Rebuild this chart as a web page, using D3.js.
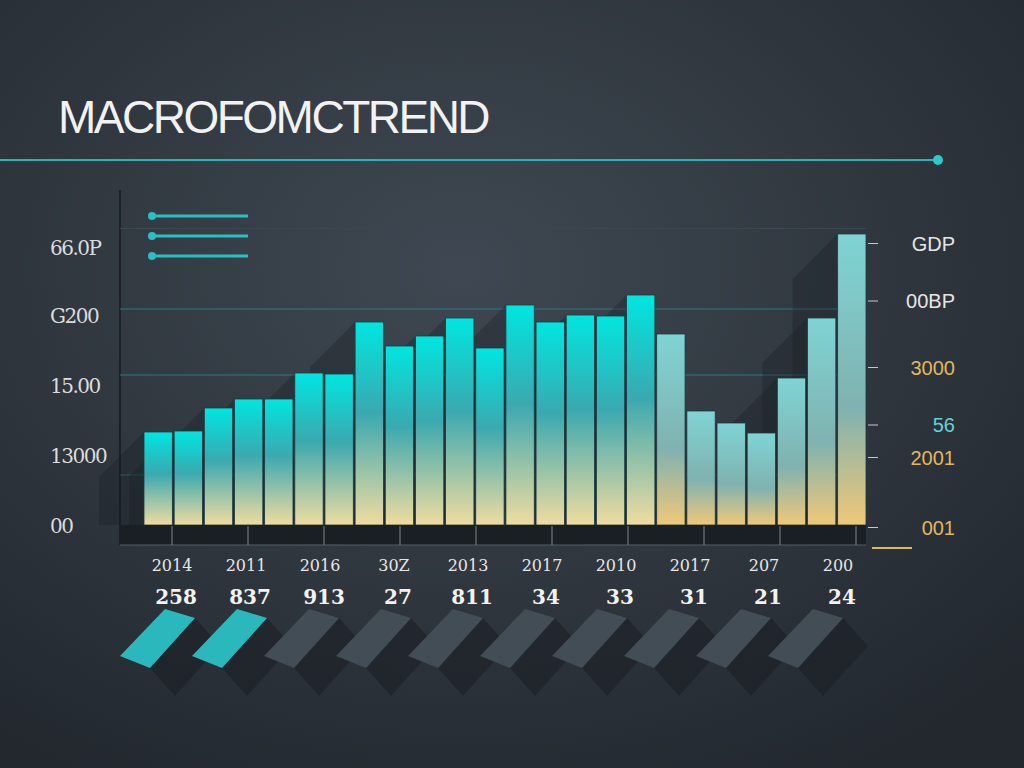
<!DOCTYPE html><html><head><meta charset="utf-8"><script src="https://cdn.jsdelivr.net/npm/d3@7"></script>
<style>body{margin:0;background:#2c333a}svg{display:block}</style></head><body><svg id="c" width="1024" height="768"></svg>
<script>
const values=[1860,1880,2340,2520,2520,3040,3020,4060,3580,3780,4140,3540,4400,4060,4200,4180,4600,3820,2280,2040,1840,2940,4140,5820];
const leftTicks=[{v:0,t:"00"},{v:1400,t:"13000"},{v:2800,t:"15.00"},{v:4200,t:"G200"},{v:5560,t:"66.0P"}];
const rightTicks=[{v:-50,t:"001",c:"#e0b860"},{v:1350,t:"2001",c:"#e0b860"},{v:2000,t:"56",c:"#5fd6d6"},{v:3150,t:"3000",c:"#e0b860"},{v:4480,t:"00BP",c:"#e6e6e6"},{v:5630,t:"GDP",c:"#e6e6e6"}];
const yearLabels=["2014","2011","2016","30Z","2013","2017","2010","2017","207","200"];
const subLabels=["258","837","913","27","811","34","33","31","21","24"];
const gridVals=[1000,3000,4320,5930];
const svg=d3.select("#c");
const defs=svg.append("defs");
const bg=defs.append("radialGradient").attr("id","bg").attr("cx","45%").attr("cy","35%").attr("r","75%");
bg.append("stop").attr("offset","0").attr("stop-color","#3f4852");bg.append("stop").attr("offset","1").attr("stop-color","#22282e");
const bar=defs.append("linearGradient").attr("id","bar").attr("x1",0).attr("y1",0).attr("x2",0).attr("y2",1);
bar.append("stop").attr("offset","0").attr("stop-color","#00e6e0");bar.append("stop").attr("offset","0.45").attr("stop-color","#3aa9b0");bar.append("stop").attr("offset","1").attr("stop-color","#f0dca0");
const bar2=defs.append("linearGradient").attr("id","bar2").attr("x1",0).attr("y1",0).attr("x2",0).attr("y2",1);
bar2.append("stop").attr("offset","0").attr("stop-color","#7fd4d4");bar2.append("stop").attr("offset","0.6").attr("stop-color","#7fb2b0");bar2.append("stop").attr("offset","1").attr("stop-color","#f0c878");
svg.append("rect").attr("width",1024).attr("height",768).attr("fill","url(#bg)");
const x=d3.scaleBand().domain(d3.range(values.length)).range([144,866]).paddingInner(0.06);
const y=d3.scaleLinear().domain([0,6700]).range([525,190]);
svg.append("text").attr("x",58).attr("y",133).text("MACROFOMCTREND").attr("fill","#f2f2f2").attr("font-family","Liberation Sans, Arial").attr("font-size",46).attr("letter-spacing",-2.5);
svg.append("line").attr("x1",0).attr("x2",938).attr("y1",160).attr("y2",160).attr("stroke","#27b4b8").attr("stroke-width",2);
svg.append("circle").attr("cx",938).attr("cy",160).attr("r",5).attr("fill","#2cc8cc");
svg.append("line").attr("x1",120).attr("x2",120).attr("y1",190).attr("y2",545).attr("stroke","#1c2024").attr("stroke-width",2);
svg.selectAll(".g").data(gridVals).join("line").attr("x1",120).attr("x2",866).attr("y1",d=>y(d)).attr("y2",d=>y(d)).attr("stroke",(d,i)=>i==3?"#3c4650":"#2f7b80").attr("stroke-width",1.2);
svg.selectAll(".s").data(values).join("path").attr("fill","#1a1f24").attr("opacity",0.35)
 .attr("d",(d,i)=>{const x0=x(i),t=y(d);return `M${x0},${t} L${x0},525 L${x0-45},${525} L${x0-45},${t+45} Z`;});
svg.selectAll(".b").data(values).join("rect").attr("x",(d,i)=>x(i)).attr("width",x.bandwidth()).attr("y",d=>y(d)).attr("height",d=>525-y(d))
 .attr("fill",(d,i)=>i>=17?"url(#bar2)":"url(#bar)").attr("stroke","#1d3a40").attr("stroke-width",0.8);
svg.append("rect").attr("x",120).attr("y",525).attr("width",746).attr("height",20).attr("fill","#1a1f23");
svg.append("line").attr("x1",120).attr("x2",866).attr("y1",545).attr("y2",545).attr("stroke","#555e66");
d3.range(10).forEach(i=>svg.append("line").attr("x1",172+i*76).attr("x2",172+i*76).attr("y1",526).attr("y2",545).attr("stroke","#7a848c"));
svg.selectAll(".lt").data(leftTicks).join("text").attr("x",50).attr("y",d=>y(d.v)+8).text(d=>d.t).attr("fill","#dcdcdc").attr("font-family","DejaVu Serif, serif").attr("font-size",20).attr("letter-spacing",-1.5);
svg.selectAll(".rt").data(rightTicks).join("text").attr("x",955).attr("text-anchor","end").attr("y",d=>y(d.v)+7).text(d=>d.t).attr("fill",d=>d.c).attr("font-family","Liberation Sans, Arial").attr("font-size",20);
svg.selectAll(".rk").data(rightTicks).join("line").attr("x1",868).attr("x2",878).attr("y1",d=>y(d.v)).attr("y2",d=>y(d.v)).attr("stroke","#c8c8c8");
svg.append("line").attr("x1",872).attr("x2",912).attr("y1",548).attr("y2",548).attr("stroke","#e0b860").attr("stroke-width",2);
[216,236,256].forEach(v=>{svg.append("line").attr("x1",150).attr("x2",248).attr("y1",v).attr("y2",v).attr("stroke","#2abfc2").attr("stroke-width",3);svg.append("circle").attr("cx",152).attr("cy",v).attr("r",4).attr("fill","#2abfc2");});
svg.selectAll(".bs").data(subLabels).join("path").attr("fill","#1b2024").attr("opacity",0.6)
 .attr("d",(d,i)=>{const cx=120+i*72;return `M${cx+30},${668} L${cx+75},${618} L${cx+100},${646} L${cx+55},${696} Z`;});
svg.selectAll(".bl").data(subLabels).join("path").attr("fill",(d,i)=>i<2?"#2bb8bc":"#434d56")
 .attr("d",(d,i)=>{const cx=120+i*72;return `M${cx},${656} L${cx+45},${609} L${cx+75},${618} L${cx+30},${668} Z`;});
svg.selectAll(".xl").data(yearLabels).join("text").attr("x",(d,i)=>172+i*74).attr("y",571).attr("text-anchor","middle").text(d=>d).attr("fill","#e6e6e6").attr("font-family","DejaVu Serif, serif").attr("font-size",16);
svg.selectAll(".sl").data(subLabels).join("text").attr("x",(d,i)=>176+i*74).attr("y",604).attr("text-anchor","middle").text(d=>d).attr("fill","#f2f2f2").attr("font-family","DejaVu Serif, serif").attr("font-weight","bold").attr("font-size",20);
</script></body></html>
